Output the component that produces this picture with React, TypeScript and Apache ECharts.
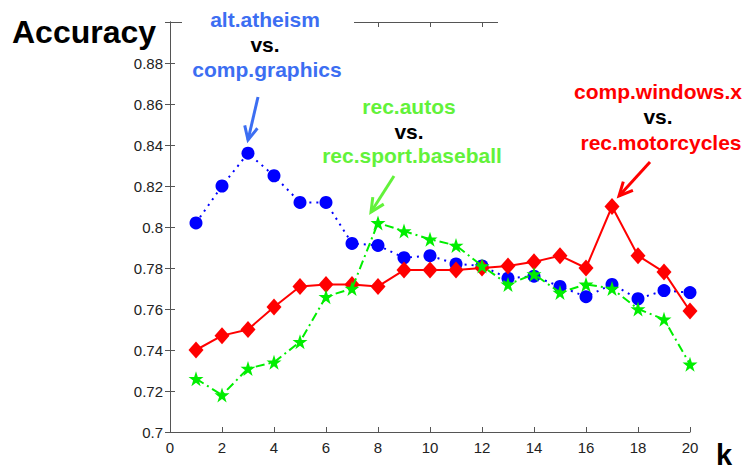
import React, { useEffect, useRef } from "react";
import * as echarts from "echarts";

const kValues = [1, 2, 3, 4, 5, 6, 7, 8, 9, 10, 11, 12, 13, 14, 15, 16, 17, 18, 19, 20];
const atheismVsGraphics = [0.802, 0.82, 0.836, 0.825, 0.812, 0.812, 0.792, 0.791, 0.785, 0.786, 0.782, 0.781, 0.775, 0.776, 0.771, 0.766, 0.772, 0.765, 0.769, 0.768];
const windowsVsMotorcycles = [0.74, 0.747, 0.75, 0.761, 0.771, 0.772, 0.772, 0.771, 0.779, 0.779, 0.779, 0.78, 0.781, 0.783, 0.786, 0.78, 0.81, 0.786, 0.778, 0.759];
const autosVsBaseball = [0.726, 0.718, 0.731, 0.734, 0.744, 0.766, 0.77, 0.802, 0.798, 0.794, 0.791, 0.781, 0.772, 0.777, 0.768, 0.772, 0.77, 0.76, 0.755, 0.733];

const yAxisTitle = "Accuracy";
const xAxisTitle = "k";

const STAR = "path://M12,0 L14.9,8.6 L24,8.6 L16.6,14 L19.4,22.6 L12,17.3 L4.6,22.6 L7.4,14 L0,8.6 L9.1,8.6 Z";

const FONT = "Liberation Sans, Arial, sans-serif";

function arrow(x1: number, y1: number, x2: number, y2: number, color: string) {
  const ang = Math.atan2(y2 - y1, x2 - x1);
  const len = 15;
  const spread = Math.PI / 7;
  const a1 = ang + Math.PI - spread;
  const a2 = ang + Math.PI + spread;
  return [
    {
      type: "line",
      z: 120,
      shape: { x1, y1, x2, y2 },
      style: { stroke: color, lineWidth: 3 },
    },
    {
      type: "polyline",
      z: 120,
      shape: {
        points: [
          [x2 + len * Math.cos(a1), y2 + len * Math.sin(a1)],
          [x2, y2],
          [x2 + len * Math.cos(a2), y2 + len * Math.sin(a2)],
        ],
      },
      style: { stroke: color, lineWidth: 3, fill: null },
    },
  ];
}

function label(text: string, x: number, y: number, color: string, size = 21) {
  return {
    type: "text",
    z: 130,
    style: {
      text,
      x,
      y,
      fill: color,
      font: `bold ${size}px ${FONT}`,
      textAlign: "center",
      textVerticalAlign: "middle",
      verticalAlign: "middle",
    },
  };
}

export default function App() {
  const ref = useRef<HTMLDivElement>(null);

  useEffect(() => {
    if (!ref.current) return;
    const chart = echarts.init(ref.current, null, { renderer: "svg" });
    const blueText = "#3c6ef2";
    const greenText = "#62f23a";
    const redText = "#ff0000";

    const axisCommon = {
      type: "value",
      axisLine: { show: true, lineStyle: { color: "#555", width: 1 } },
      axisTick: { show: true, inside: true, length: 5, lineStyle: { color: "#555" } },
      splitLine: { show: false },
    };

    chart.setOption({
      animation: false,
      backgroundColor: "#fff",
      grid: { left: 170, right: 55, top: 22, bottom: 38, containLabel: false },
      xAxis: [
        {
          ...axisCommon,
          position: "bottom",
          min: 0,
          max: 20,
          interval: 2,
          axisLabel: { color: "#222", fontSize: 15, fontFamily: FONT, margin: 8 },
        },
        {
          ...axisCommon,
          position: "top",
          min: 0,
          max: 20,
          interval: 2,
          axisLabel: { show: false },
        },
      ],
      yAxis: [
        {
          ...axisCommon,
          position: "left",
          min: 0.7,
          max: 0.9,
          interval: 0.02,
          axisLabel: {
            color: "#222",
            fontSize: 15,
            fontFamily: FONT,
            margin: 7,
            showMaxLabel: false,
            formatter: (v: number) => String(parseFloat(v.toFixed(2))),
          },
        },
        {
          ...axisCommon,
          position: "right",
          min: 0.7,
          max: 0.9,
          interval: 0.02,
          axisLabel: { show: false },
        },
      ],
      series: [
        {
          name: "alt.atheism vs. comp.graphics",
          type: "line",
          data: kValues.map((k, i) => [k, atheismVsGraphics[i]]),
          symbol: "circle",
          symbolSize: 13,
          itemStyle: { color: "#0000ff" },
          lineStyle: { color: "#0000ff", width: 2, type: [2, 5] },
          z: 3,
        },
        {
          name: "comp.windows.x vs. rec.motorcycles",
          type: "line",
          data: kValues.map((k, i) => [k, windowsVsMotorcycles[i]]),
          symbol: "diamond",
          symbolSize: [15, 17],
          itemStyle: { color: "#ff0000" },
          lineStyle: { color: "#ff0000", width: 2 },
          z: 4,
        },
        {
          name: "rec.autos vs. rec.sport.baseball",
          type: "line",
          data: kValues.map((k, i) => [k, autosVsBaseball[i]]),
          symbol: STAR,
          symbolSize: 15,
          itemStyle: { color: "#00ee00" },
          lineStyle: { color: "#00ee00", width: 2, type: [9, 4, 2, 4] },
          z: 5,
        },
      ],
      graphic: [
        { type: "rect", z: 110, shape: { x: 182, y: 0, width: 172, height: 82 }, style: { fill: "#fff" } },
        { type: "rect", z: 110, shape: { x: 498, y: 0, width: 247, height: 158 }, style: { fill: "#fff" } },
        {
          type: "text",
          z: 130,
          style: {
            text: yAxisTitle,
            x: 12,
            y: 32,
            fill: "#000",
            font: `bold 32px ${FONT}`,
            textAlign: "left",
            textVerticalAlign: "middle",
            verticalAlign: "middle",
          },
        },
        {
          type: "text",
          z: 130,
          style: {
            text: xAxisTitle,
            x: 724,
            y: 469,
            fill: "#000",
            font: `bold 29px ${FONT}`,
            textAlign: "center",
            textVerticalAlign: "bottom",
            verticalAlign: "bottom",
          },
        },
        label("alt.atheism", 265, 19, blueText),
        label("vs.", 265, 44, "#000"),
        label("comp.graphics", 267, 69, blueText),
        label("rec.autos", 409, 106, greenText),
        label("vs.", 409, 131, "#000"),
        label("rec.sport.baseball", 412, 155, greenText),
        label("comp.windows.x", 658, 91, redText),
        label("vs.", 658, 116, "#000"),
        label("rec.motorcycles", 661, 142, redText),
        ...arrow(258, 97, 248, 140, blueText),
        ...arrow(394, 176, 371, 212, greenText),
        ...arrow(650, 162, 619, 196, redText),
      ],
    });
    return () => chart.dispose();
  }, []);

  return (
    <div
      ref={ref}
      style={{ position: "fixed", left: 0, top: 0, width: 745, height: 470, background: "#fff" }}
    />
  );
}
